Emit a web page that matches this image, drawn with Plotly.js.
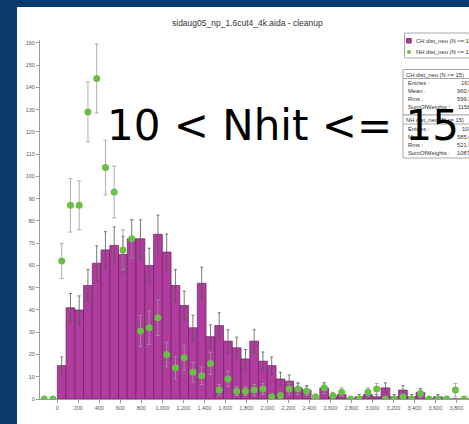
<!DOCTYPE html>
<html>
<head>
<meta charset="utf-8">
<script src="https://cdn.plot.ly/plotly-3.0.1.min.js"></script>
<style>
  html, body { margin: 0; padding: 0; background: #ffffff; overflow: hidden; }
  #plot { width: 469px; height: 424px; }
</style>
</head>
<body>
<div id="plot"></div>
<script>
// Histogram binning: 48 bins of equal width over 0..4000
const binWidth = 250 / 3;
const chFirstBin = 0;
const nhFirstBin = -2;

// CH dist_neu (N <= 15): weighted bin contents
const chCounts = [
  15, 41, 40, 51, 61, 67, 69, 65, 72, 72,
  60, 74, 66, 51, 42, 32, 52, 28, 33, 26,
  23, 18, 26, 17, 15, 9, 8, 5, 4, 0,
  5, 1, 2, 0, 1, 2, 1, 5, 1, 4,
  1, 3, 0, 1, 0, 0, 0, 0
];

// NH dist_neu (N <= 15): weighted bin contents, starting two bins below zero
const nhWeights = [
  0, 0,
  62, 87, 87, 129, 144, 104, 93, 67, 72, 30.5,
  32, 36.5, 20, 14, 18.5, 12, 10.5, 16, 4, 9,
  3.5, 3.5, 4, 4.5, 1, 1.5, 4.5, 4.5, 3.5, 1,
  5, 1.5, 3, 0, 0, 3, 4.5, 0, 0, 1,
  0, 2.5, 0, 0, 0, 4, 0, 0
];
const nhErrors = [
  0, 0,
  7.8, 12, 11, 13.5, 15.5, 12.3, 11.6, 9, 8.6, 7,
  7.5, 8, 5.5, 5, 5.5, 4.5, 4, 5, 2.5, 3.5,
  2, 2, 2.5, 2.5, 1, 1.5, 2.5, 2.5, 2, 1,
  2.5, 1.5, 2, 0, 0, 2, 2.5, 0, 0, 1,
  0, 2, 0, 0, 0, 3, 0, 0
];

const titleText = 'sidaug05_np_1.6cut4_4k.aida - cleanup';
const cutLabel = '10 < Nhit <= 15';
const chName = 'CH dist_neu (N <= 15)';
const nhName = 'NH dist_neu (N <= 15)';
const statLabels = ['Entries :', 'Mean :', 'Rms :', 'SumOfWeights :'];
const chStats = ['1634', '960.96', '599.27', '1158.3'];
const nhStats = ['1033', '585.05', '521.93', '1087.5'];

const chX = chCounts.map((_, i) => (chFirstBin + i + 0.5) * binWidth);
const nhX = nhWeights.map((_, i) => (nhFirstBin + i + 0.5) * binWidth);
// Poisson errors on the CH bins
const chErr = chCounts.map(v => Math.sqrt(v));

// Page geometry (pixels) and conversion to paper coordinates
const W = 469, H = 424;
const M = { l: 40, r: 0, t: 40, b: 25 };
const PW = W - M.l - M.r, PH = H - M.t - M.b;
const px = x => (x - M.l) / PW;
const py = y => (H - M.b - y) / PH;

const navy = '#0a3a6c';
const boxLine = '#a8a8a8';
const magenta = '#b03c9e';
const green = '#6abf47';
const smallFont = { family: 'Liberation Sans, Arial, sans-serif', size: 5.8, color: '#333' };

const shapes = [];
const annotations = [];

function rect(x0, y0, x1, y1, fill, line) {
  shapes.push({ type: 'rect', xref: 'paper', yref: 'paper', layer: 'above',
    x0: px(x0), x1: px(x1), y0: py(y1), y1: py(y0),
    fillcolor: fill, line: line ? { color: line, width: 1 } : { width: 0 } });
}
function hline(x0, x1, y, color) {
  shapes.push({ type: 'line', xref: 'paper', yref: 'paper', layer: 'above',
    x0: px(x0), x1: px(x1), y0: py(y), y1: py(y), line: { color: color, width: 1 } });
}
function label(text, x, y, anchor, font) {
  annotations.push({ text: text, xref: 'paper', yref: 'paper', x: px(x), y: py(y),
    xanchor: anchor, yanchor: 'middle', showarrow: false, font: font || smallFont,
    borderpad: 0 });
}

// Navy frame around the white panel
rect(0, 0, 17, H, navy);
rect(0, 0, W, 7, navy);

// Legend box
rect(404.5, 33, 520, 58, '#ffffff', boxLine);
rect(406.7, 38.5, 411.2, 43, magenta, '#7a2a6e');
shapes.push({ type: 'circle', xref: 'paper', yref: 'paper', layer: 'above',
  x0: px(407), x1: px(411), y0: py(54), y1: py(50), fillcolor: green, line: { width: 0 } });
label(chName, 414.5, 40.8, 'left');
label(nhName, 414.5, 52.2, 'left');

// Statistics boxes
function statBox(top, bottom, name, values) {
  rect(403, top, 520, bottom, '#ffffff', boxLine);
  label(name, 405, top + 5, 'left');
  hline(403, 520, top + 9, boxLine);
  values.forEach((v, i) => {
    const y = top + 13.5 + i * 8;
    label(statLabels[i], 406.5, y, 'left');
    label(v, 476, y, 'right');
  });
}
statBox(69.5, 115, chName, chStats);
statBox(115, 158, nhName, nhStats);

// Title
label(titleText, 247.5, 22.5, 'center',
  { family: 'Liberation Sans, Arial, sans-serif', size: 8.5, color: '#333' });

// Cut label overlaid on the plot
label(cutLabel, 282.5, 125.4, 'center',
  { family: 'DejaVu Sans, sans-serif', size: 42, color: '#000000' });

const traces = [
  {
    type: 'bar', name: chName, x: chX, y: chCounts, width: binWidth,
    marker: { color: magenta, line: { color: '#6e1f63', width: 0.7 } },
    error_y: { type: 'data', array: chErr, visible: true, color: '#555555', thickness: 0.8, width: 1.5 },
    showlegend: false
  },
  {
    type: 'scatter', mode: 'markers', name: nhName, x: nhX, y: nhWeights,
    marker: { color: green, size: 7 },
    error_y: { type: 'data', array: nhErrors, visible: true, color: '#9a9a9a', thickness: 0.8, width: 2 },
    showlegend: false
  }
];

const axisCommon = {
  showline: true, linecolor: '#9a9a9a', linewidth: 1,
  ticks: 'outside', ticklen: 3, tickcolor: '#9a9a9a', tickwidth: 1,
  showgrid: false, zeroline: false,
  tickfont: { family: 'Liberation Sans, Arial, sans-serif', size: 5.5, color: '#555' }
};

const layout = {
  width: W, height: H,
  margin: { l: M.l, r: M.r, t: M.t, b: M.b, pad: 0, autoexpand: false },
  paper_bgcolor: '#ffffff', plot_bgcolor: '#ffffff',
  bargap: 0, showlegend: false,
  xaxis: Object.assign({}, axisCommon, {
    range: [-165, 3921], dtick: 200, tick0: 0, tickformat: ',d'
  }),
  yaxis: Object.assign({}, axisCommon, {
    range: [0, 161.3], dtick: 10, tick0: 0
  }),
  shapes: shapes,
  annotations: annotations
};

Plotly.newPlot('plot', traces, layout, { displayModeBar: false, staticPlot: true });
</script>
</body>
</html>
